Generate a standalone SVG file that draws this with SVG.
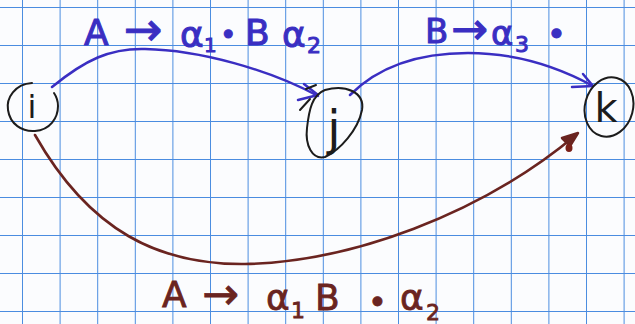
<svg xmlns="http://www.w3.org/2000/svg" width="635" height="324" viewBox="0 0 635 324">
<style>
.node{fill:none;stroke:#1c1c1c;stroke-width:2;stroke-linecap:round;stroke-linejoin:round}
.nlabel{font-family:"DejaVu Sans",sans-serif;fill:#1c1c1c;text-anchor:middle}
.blue{fill:none;stroke:#3a2ec2;stroke-width:2.5;stroke-linecap:round;stroke-linejoin:round}
.brown{fill:none;stroke:#6a2420;stroke-linecap:round;stroke-linejoin:round}
.bt{font-family:"DejaVu Sans",sans-serif;fill:#3a2ec2;stroke:#3a2ec2;stroke-width:1}
.rt{font-family:"DejaVu Sans",sans-serif;fill:#6a2420;stroke:#6a2420;stroke-width:0.8}
</style>
<defs>
<pattern id="gridp" x="22" y="7" width="37.6" height="38" patternUnits="userSpaceOnUse">
<path d="M0,0 V38 M0,0 H37.6" stroke="#4a8ce0" stroke-width="2" fill="none"/>
</pattern>
</defs>
<rect width="635" height="324" fill="#fbfcfe"/>
<rect width="635" height="324" fill="url(#gridp)"/>

<g id="connectors">
<path class="blue" d="M52,87 C85,60 110,48 145,49 C200,50 270,70 318,96"/>
<path class="blue" d="M304,84 L318,95 L298,100" stroke-width="3.5"/>
<path class="blue" d="M350,95 C380,65 420,53 468,53 C520,53 560,68 593,86"/>
<path class="blue" d="M583,74 L593,86 L572,87" stroke-width="3"/>
<path class="brown" stroke-width="2.6" d="M35,135 C90,232 160,265 245,264 C350,262 480,215 576,135"/>
<path d="M578,133 L562,138 L570,146 Z" fill="#6a2420" stroke="#6a2420" stroke-width="2.5" stroke-linejoin="round"/>
<ellipse cx="569" cy="148" rx="3.5" ry="4" fill="#7a2018"/>
</g>

<g id="node-i">
<path class="node" d="M32,83 C15,84 6,98 8,110 C10,124 22,132 35,131 C50,130 58,118 58,106 C58,100 56,96 54,93"/>
<text class="nlabel" x="32" y="118" font-size="32">i</text>
</g>
<g id="node-j">
<path class="node" d="M325,90 C345,84 365,92 362,110 C358,130 340,150 325,157 C312,160 305,145 307,128 C309,110 312,95 325,90 Z"/>
<path class="node" d="M300,110 L310,99 M306,89 L316,85"/>
<text class="nlabel" x="334" y="145" font-size="48">j</text>
</g>
<g id="node-k">
<ellipse class="node" cx="609" cy="107" rx="24" ry="30" transform="rotate(15 609 107)"/>
<text class="nlabel" x="606" y="122" font-size="40">k</text>
</g>

<g id="labels">
<text class="bt" font-size="36"><tspan x="84" y="45">A</tspan><tspan x="124" y="45" font-size="46">→</tspan><tspan x="180" y="47">α</tspan><tspan x="204" y="52" font-size="20">1</tspan><tspan x="220" y="44" font-size="28">•</tspan><tspan x="245" y="45">B</tspan><tspan x="282" y="47">α</tspan><tspan x="307" y="53" font-size="22">2</tspan></text>
<text class="bt" font-size="34"><tspan x="425" y="43">B</tspan><tspan x="451" y="44" font-size="44">→</tspan><tspan x="491" y="45">α</tspan><tspan x="515" y="52" font-size="22">3</tspan><tspan x="547" y="45" font-size="32">•</tspan></text>
<text class="rt" font-size="36"><tspan x="162" y="307">A</tspan><tspan x="202" y="309" font-size="44">→</tspan><tspan x="266" y="310">α</tspan><tspan x="291" y="318" font-size="22">1</tspan><tspan x="315" y="310">B</tspan><tspan x="368" y="313" font-size="32">•</tspan><tspan x="400" y="310">α</tspan><tspan x="426" y="320" font-size="22">2</tspan></text>
</g>
</svg>
